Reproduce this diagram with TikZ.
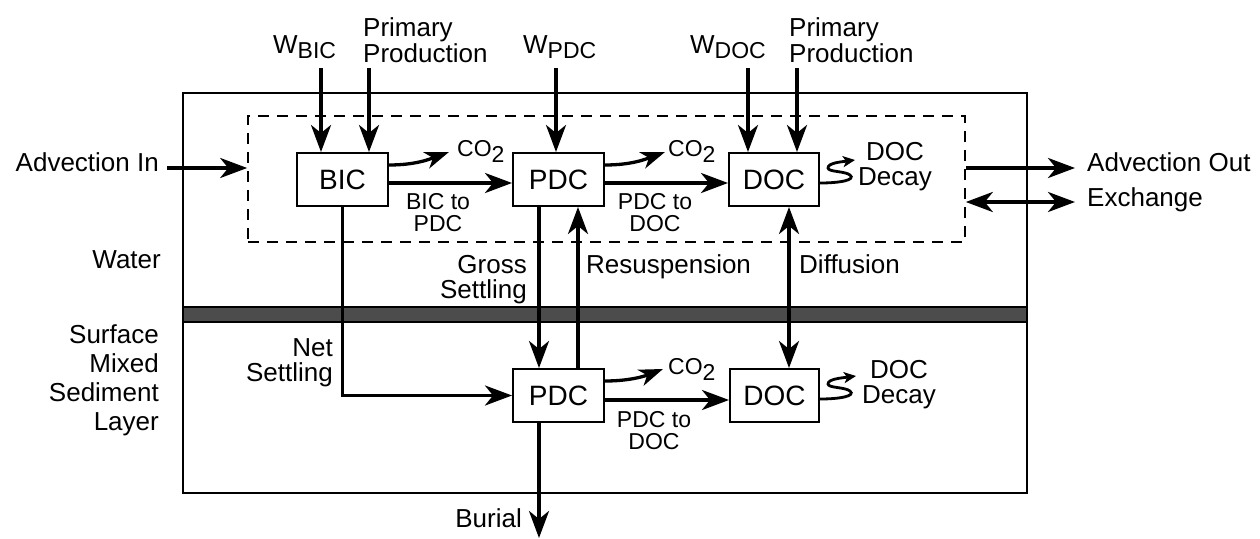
\documentclass[tikz,border=0pt]{standalone}
\usepackage{fontspec}
\setmainfont{Liberation Sans}
\usetikzlibrary{arrows.meta}
\begin{document}
\begin{tikzpicture}[x=1pt,y=-1pt,
  box/.style={draw, line width=2pt, minimum width=91pt, minimum height=53pt, inner sep=0pt, font=\fontsize{28}{28}\selectfont},
  arr/.style={line width=3.5pt, -{Stealth[length=27pt,width=20pt,inset=8pt]}},
  arrtwo/.style={line width=3.5pt, {Stealth[length=27pt,width=20pt,inset=8pt]}-{Stealth[length=27pt,width=20pt,inset=8pt]}},
  arrc/.style={line width=3.3pt, -{Stealth[length=24pt,width=17pt,inset=7pt]}},
  arrs/.style={line width=2.8pt, -{Stealth[length=12pt,width=11pt,inset=3pt]}},
  lbl/.style={inner sep=0pt, font=\fontsize{26}{26}\selectfont},
  sml/.style={inner sep=0pt, font=\fontsize{23}{22}\selectfont, align=center},
  coz/.style={inner sep=0pt, font=\fontsize{23}{23}\selectfont}]
\useasboundingbox (0,0) rectangle (1260,538);

% frames
\node[draw, line width=2pt, minimum width=844pt, minimum height=400pt, inner sep=0pt] (outer) at (605,292.5) {};
\path[draw, line width=1.5pt, fill=black!70] (183,307) rectangle (1027,322);
\node[draw, line width=1.6pt, dash pattern=on 11pt off 8pt, minimum width=717pt, minimum height=126pt, inner sep=0pt] (dbox) at (606.5,179) {};

% boxes
\node[box] (bic) at (342.5,179.5) {BIC};
\node[box] (pdc) at (558.5,179.5) {PDC};
\node[box, minimum width=90pt] (doc) at (774,179.5) {DOC};
\node[box] (pdcb) at (558.5,395.5) {PDC};
\node[box, minimum width=89pt] (docb) at (774.5,395.5) {DOC};

% helper coordinates
\coordinate (wbic) at (321,68);
\coordinate (ppa) at (369,68);
\coordinate (wpdc) at (556,68);
\coordinate (wdoc) at (748,68);
\coordinate (ppb) at (797,68);
\coordinate (hy) at (0,183);
\coordinate (hyb) at (0,400);
\coordinate (gx) at (539,0);
\coordinate (rx) at (578,0);
\coordinate (dx) at (789,0);
\coordinate (advin) at (167,168);
\coordinate (advout) at (1075,168);
\coordinate (exch) at (1075,202);
\coordinate (burial) at (539,538);
\coordinate (cya) at (0,165);
\coordinate (cyb) at (0,381);
\coordinate (coa) at (449,152);
\coordinate (cob) at (665,152);
\coordinate (coc) at (663,369);
\coordinate (sya) at (0,183);
\coordinate (syb) at (0,399);
\coordinate (sqa) at (855,160);
\coordinate (sqb) at (856,376);

% inflows
\draw[arr] (wbic) -- (wbic |- bic.north);
\draw[arr] (ppa) -- (ppa |- bic.north);
\draw[arr] (wpdc) -- (wpdc |- pdc.north);
\draw[arr] (wdoc) -- (wdoc |- doc.north);
\draw[arr] (ppb) -- (ppb |- doc.north);

% horizontal transfers
\draw[arr] (bic.east |- hy) -- (pdc.west |- hy);
\draw[arr] (pdc.east |- hy) -- (doc.west |- hy);
\draw[arr] (pdcb.east |- hyb) -- (docb.west |- hyb);
\draw[arr] (bic.south) |- (pdcb.west);

% vertical exchanges
\draw[arr] (gx |- pdc.south) -- (gx |- pdcb.north);
\draw[arr] (rx |- pdcb.north) -- (rx |- pdc.south);
\draw[arrtwo] (dx |- doc.south) -- (dx |- docb.north);
\draw[arr] (gx |- pdcb.south) -- (burial);

% advection / exchange
\draw[arr] (advin) -- (advin -| dbox.west);
\draw[arr] (advout -| dbox.east) -- (advout);
\draw[arrtwo] (exch -| dbox.east) -- (exch);

% CO2 arrows
\draw[arrc] (bic.east |- cya) .. controls (416,165) and (430,159) .. (coa);
\draw[arrc] (pdc.east |- cya) .. controls (632,165) and (646,159) .. (cob);
\draw[arrc] (pdcb.east |- cyb) .. controls (630,381) and (645,376) .. (coc);

% decay squiggles
\draw[arrs] (doc.east |- sya) .. controls (840,183) and (856,180) .. (850,175) .. controls (845,171) and (828,172) .. (828,168) .. controls (828,163) and (840,162) .. (sqa);
\draw[arrs] (docb.east |- syb) .. controls (840,399) and (856,396) .. (850,391) .. controls (845,387) and (828,388) .. (828,384) .. controls (828,379) and (841,378) .. (sqb);

% labels
\node[lbl, anchor=base west] (lwbic) at (273,53) {W\raisebox{-5pt}{\fontsize{23}{23}\selectfont BIC}};
\node[lbl, anchor=north west, align=left] (lppa) at (363,17) {Primary\\Production};
\node[lbl, anchor=base west] (lwpdc) at (523,53) {W\raisebox{-5pt}{\fontsize{23}{23}\selectfont PDC}};
\node[lbl, anchor=base west] (lwdoc) at (690,53) {W\raisebox{-5pt}{\fontsize{23}{23}\selectfont DOC}};
\node[lbl, anchor=north west, align=left] (lppb) at (789,17) {Primary\\Production};

\node[coz, anchor=base west] (lcoa) at (457,156) {CO\raisebox{-6pt}{2}};
\node[coz, anchor=base west] (lcob) at (668,156) {CO\raisebox{-6pt}{2}};
\node[coz, anchor=base west] (lcoc) at (668,374) {CO\raisebox{-6pt}{2}};

\node[sml, anchor=north] (lbp) at (438,193) {BIC to\\PDC};
\node[sml, anchor=north] (lpd) at (655,193) {PDC to\\DOC};
\node[sml, anchor=north] (lpdb) at (654,411) {PDC to\\DOC};

\node[lbl, anchor=north, align=center, font=\fontsize{26}{25}\selectfont] (ldda) at (895,142) {DOC\\Decay};
\node[lbl, anchor=north, align=center, font=\fontsize{26}{25}\selectfont] (lddb) at (899,360) {DOC\\Decay};

\node[lbl, anchor=base east] (ladvin) at (159,171) {Advection In};
\node[lbl, anchor=base west] (ladvout) at (1087,171) {Advection Out};
\node[lbl, anchor=base west] (lexch) at (1087,206) {Exchange};

\node[lbl, anchor=north east] (lwater) at (161,250) {Water};
\node[lbl, anchor=north east, align=right, font=\fontsize{26}{29}\selectfont] (lsed) at (159,324) {Surface\\Mixed\\Sediment\\Layer};

\node[lbl, anchor=north east, align=right, font=\fontsize{26}{25}\selectfont] (lgross) at (527,255) {Gross\\Settling};
\node[lbl, anchor=base west] (lresus) at (586,273) {Resuspension};
\node[lbl, anchor=base west] (ldiff) at (799,273) {Diffusion};
\node[lbl, anchor=north east, align=right, font=\fontsize{26}{25}\selectfont] (lnet) at (333,338) {Net\\Settling};
\node[lbl, anchor=base east] (lburial) at (522,527) {Burial};
\end{tikzpicture}
\end{document}
